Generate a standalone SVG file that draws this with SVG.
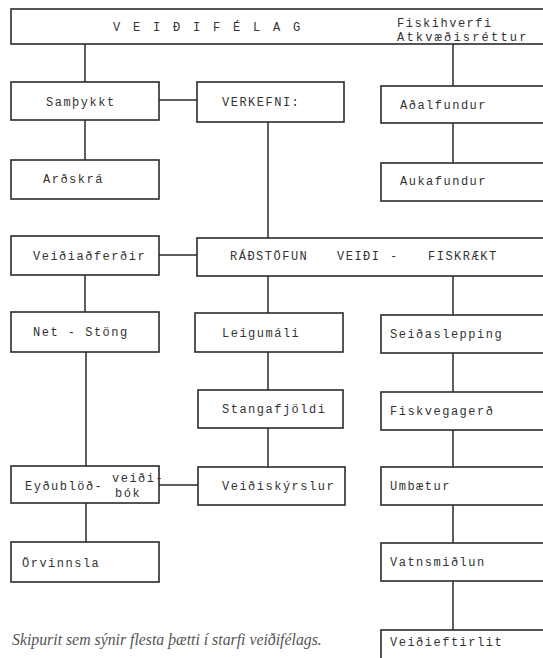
<svg xmlns="http://www.w3.org/2000/svg" width="543" height="658" viewBox="0 0 543 658">
<style>
.box{fill:#fff;stroke:#2b2b2b;stroke-width:1.6}
.c{fill:none;stroke:#2b2b2b;stroke-width:1.5}
.t{font-family:"Liberation Mono","DejaVu Sans Mono",monospace;font-size:12px;letter-spacing:1.5px;fill:#333}
.cap{font-family:"Liberation Serif","DejaVu Serif",serif;font-style:italic;font-size:15.8px;fill:#555}
</style>
<rect width="543" height="658" fill="#fff"/>
<g id="connectors">
<path class="c" d="M85 44V82M453 44V86M159 100H197M85 120V160M453 123V163M268 122V238M159 255H197M85 275V312M268 276V313M453 276V315M268 352V390M453 353V392M86 352V466M268 428V467M453 430V467M159 485H198M86 503V542M453 505V543M453 581V630"/>
</g>
<g id="veidifelag"><rect class="box" x="11" y="9" width="549" height="35"/>
<text class="t" x="113" y="31" style="letter-spacing:2.8px">V E I Ð I F É L A G</text>
<text class="t" x="397" y="27">Fiskihverfi</text>
<text class="t" x="397" y="41" style="letter-spacing:2.2px">Atkvæðisréttur</text></g>
<g id="sampykkt"><rect class="box" x="11" y="82" width="148" height="38"/><text class="t" x="46" y="106">Samþykkt</text></g>
<g id="verkefni"><rect class="box" x="197" y="82" width="147" height="40"/><text class="t" x="222" y="106">VERKEFNI:</text></g>
<g id="adalfundur"><rect class="box" x="381" y="86" width="180" height="37"/><text class="t" x="400" y="109">Aðalfundur</text></g>
<g id="ardskra"><rect class="box" x="11" y="160" width="148" height="39"/><text class="t" x="43" y="183">Arðskrá</text></g>
<g id="aukafundur"><rect class="box" x="381" y="163" width="180" height="38"/><text class="t" x="400" y="185">Aukafundur</text></g>
<g id="veidiadferdir"><rect class="box" x="11" y="236" width="148" height="39"/><text class="t" x="33" y="260">Veiðiaðferðir</text></g>
<g id="radstofun"><rect class="box" x="197" y="238" width="363" height="38"/>
<text class="t" y="260"><tspan x="230">RÁÐSTÖFUN</tspan><tspan x="337">VEIÐI</tspan><tspan x="390">-</tspan><tspan x="428">FISKRÆKT</tspan></text></g>
<g id="netstong"><rect class="box" x="11" y="312" width="148" height="40"/><text class="t" x="33" y="336">Net - Stöng</text></g>
<g id="leigumali"><rect class="box" x="195" y="313" width="148" height="39"/><text class="t" x="222" y="337">Leigumáli</text></g>
<g id="seidaslepping"><rect class="box" x="381" y="315" width="180" height="38"/><text class="t" x="390" y="338">Seiðaslepping</text></g>
<g id="stangafjoldi"><rect class="box" x="198" y="390" width="145" height="38"/><text class="t" x="222" y="413">Stangafjöldi</text></g>
<g id="fiskvegagerd"><rect class="box" x="381" y="392" width="180" height="38"/><text class="t" x="390" y="415">Fiskvegagerð</text></g>
<g id="eydublod"><rect class="box" x="11" y="466" width="148" height="37"/>
<text class="t" x="25" y="490">Eyðublöð-</text>
<text class="t" x="112" y="482">veiði-</text>
<text class="t" x="115" y="497">bók</text></g>
<g id="veidiskyrslur"><rect class="box" x="198" y="467" width="147" height="38"/><text class="t" x="222" y="490">Veiðiskýrslur</text></g>
<g id="umbaetur"><rect class="box" x="381" y="467" width="180" height="38"/><text class="t" x="390" y="490">Umbætur</text></g>
<g id="orvinnsla"><rect class="box" x="11" y="542" width="148" height="40"/><text class="t" x="22" y="567">Örvinnsla</text></g>
<g id="vatnsmidlun"><rect class="box" x="381" y="543" width="180" height="38"/><text class="t" x="390" y="566">Vatnsmiðlun</text></g>
<g id="veidieftirlit"><rect class="box" x="381" y="630" width="180" height="40"/><text class="t" x="390" y="646">Veiðieftirlit</text></g>
<text class="cap" x="12" y="645">Skipurit sem sýnir flesta þætti í starfi veiðifélags.</text>
</svg>
